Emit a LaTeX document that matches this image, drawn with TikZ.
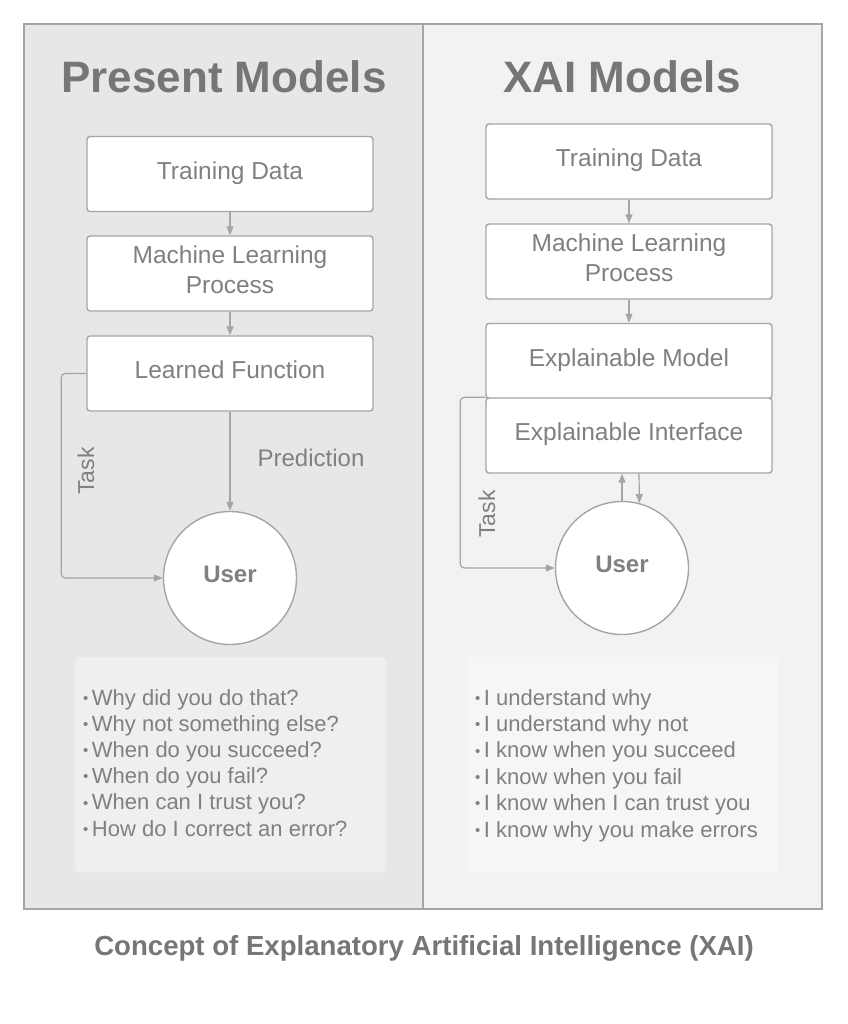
\documentclass[tikz,border=0pt]{standalone}
\usepackage{fontspec}
\setmainfont{Liberation Sans}
\usetikzlibrary{arrows.meta}
\definecolor{titlegray}{RGB}{118,118,118}
\definecolor{txtgray}{RGB}{128,128,128}
\definecolor{linegray}{RGB}{165,165,165}
\definecolor{leftfill}{RGB}{231,231,231}
\definecolor{rightfill}{RGB}{242,242,242}
\definecolor{leftlist}{RGB}{239,239,239}
\definecolor{rightlist}{RGB}{246,246,246}
\newcommand{\mybul}{\raisebox{1.8pt}{\fontsize{15}{15}\selectfont•}\hspace{3.5pt}}
\tikzset{
  stepbox/.style={draw=linegray, line width=1.4pt, fill=white, rounded corners=3pt,
    minimum width=286pt, minimum height=75pt, inner sep=0pt, align=center,
    text depth=7.5pt, text=txtgray, font=\fontsize{24.5}{30}\selectfont},
  usercirc/.style={circle, draw=linegray, line width=1.4pt, fill=white,
    minimum size=133pt, inner sep=0pt, text depth=8pt, text=txtgray, font=\bfseries\fontsize{24}{28}\selectfont},
  conn/.style={draw=linegray, line width=1.2pt, -{Triangle[length=9pt,width=7pt]}},
  paneltitle/.style={text=titlegray, font=\bfseries\fontsize{44}{50}\selectfont},
  lbl/.style={text=txtgray, font=\fontsize{24}{28}\selectfont},
  bullettxt/.style={text=txtgray, font=\fontsize{22}{26}\selectfont, anchor=base west, inner sep=0pt},
  listbox/.style={rounded corners=4pt, draw=none}
}
\begin{document}
\begin{tikzpicture}[x=1pt,y=-1pt]
\useasboundingbox (0,0) rectangle (847,1024);
\fill[white] (0,0) rectangle (847,1024);
% panels
\fill[leftfill] (24,24) rectangle (423,909);
\fill[rightfill] (423,24) rectangle (822,909);
\draw[linegray, line width=1.8pt] (24,24) rectangle (822,909);
\draw[linegray, line width=1.5pt] (423,24) -- (423,909);
% titles
\node[paneltitle] (tleft) at (224,77) {Present Models};
\node[paneltitle] (tright) at (622,77) {XAI Models};
% left boxes
\node[stepbox] (ltd) at (230,174) {Training Data};
\node[stepbox] (lmlp) at (230,273.5) {Machine Learning\\Process};
\node[stepbox] (llf) at (230,373.5) {Learned Function};
\node[usercirc] (luser) at (230,578) {User};
\draw[conn] (ltd) -- (lmlp);
\draw[conn] (lmlp) -- (llf);
\draw[conn] (llf) -- (luser);
\draw[conn, rounded corners=4pt] (llf.west) -- ++(-25,0) |- (luser.west);
\node[lbl] (pred) at (311,458) {Prediction};
\node[lbl, rotate=90, font=\fontsize{23}{28}\selectfont] (ltask) at (86,471) {Task};
% right boxes
\node[stepbox] (rtd) at (629,161.5) {Training Data};
\node[stepbox] (rmlp) at (629,261.5) {Machine Learning\\Process};
\node[stepbox] (rem) at (629,361) {Explainable Model};
\node[stepbox] (rei) at (629,435.5) {Explainable Interface};
\node[usercirc] (ruser) at (622,568) {User};
\draw[conn] (rtd) -- (rmlp);
\draw[conn] (rmlp) -- (rem);
\draw[conn] (ruser.north) -- (ruser.north |- rei.south);
\coordinate (dtop) at (639,473);
\draw[conn] (dtop) -- (ruser.75);
\draw[conn, rounded corners=4pt] (rei.north west) -- ++(-25,0) |- (ruser.west);
\node[lbl, rotate=90, font=\fontsize{23}{28}\selectfont] (rtask) at (487,514) {Task};
% list boxes
\node[listbox, fill=leftlist, minimum width=311pt, minimum height=215pt] (llist) at (230.5,764.5) {};
\node[listbox, fill=rightlist, minimum width=311pt, minimum height=215pt] (rlist) at (622.5,764.5) {};
\foreach \t [count=\i] in {Why did you do that?, Why not something else?, When do you succeed?, When do you fail?, When can I trust you?, How do I correct an error?}{
  \node[bullettxt] (lb\i) at (83,{705+(\i-1)*26.2}) {\mybul\t};
}
\foreach \t [count=\i] in {I understand why, I understand why not, I know when you succeed, I know when you fail, I know when I can trust you, I know why you make errors}{
  \node[bullettxt] (rb\i) at (475,{705+(\i-1)*26.4}) {\mybul\t};
}
% caption
\node[text=titlegray, font=\bfseries\fontsize{27.6}{32}\selectfont] (cap) at (424,948) {Concept of Explanatory Artificial Intelligence (XAI)};
\end{tikzpicture}
\end{document}
